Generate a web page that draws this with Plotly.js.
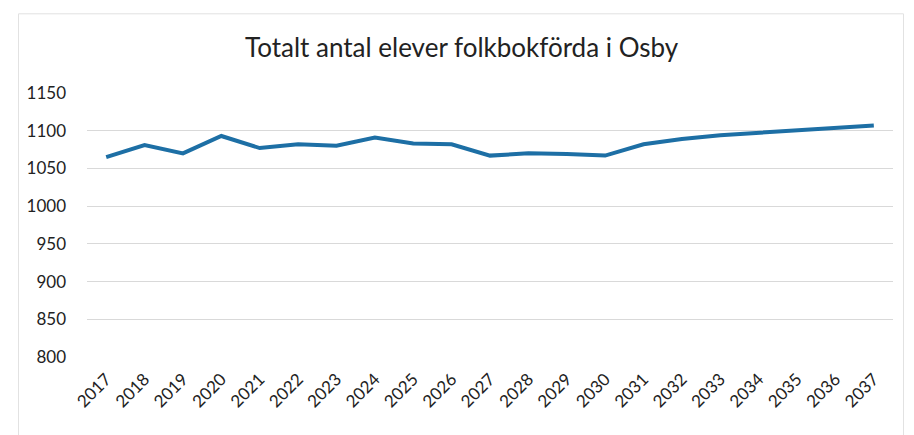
<!DOCTYPE html>
<html>
<head>
<meta charset="utf-8">
<script src="https://cdn.plot.ly/plotly-3.0.1.min.js"></script>
<style>html,body{margin:0;padding:0;background:#fff;}#chart{width:914px;height:435px;}</style>
</head>
<body>
<div id="chart"></div>
<script>
const years = ["2017","2018","2019","2020","2021","2022","2023","2024","2025","2026","2027","2028","2029","2030","2031","2032","2033","2034","2035","2036","2037"];
const elever = [1065,1081,1070,1093,1077,1082,1080,1091,1083,1082,1067,1070,1069,1067,1082,1089,1094,1097,1101,1104,1107];
const yTicks = [800,850,900,950,1000,1050,1100,1150];

Plotly.newPlot('chart', [{
  x: years,
  y: elever,
  type: 'scatter',
  mode: 'lines',
  line: {color: '#1d6fa5', width: 4}
}], {
  width: 914, height: 435,
  paper_bgcolor: '#fff', plot_bgcolor: '#fff',
  margin: {l: 87, r: 21, t: 93, b: 78},
  title: {text: 'Totalt antal elever folkbokförda i Osby', x: 0.505, xanchor: 'center', y: 0.89, yanchor: 'middle',
          font: {family: 'Lato, Open Sans, sans-serif', size: 26, color: '#222'}},
  font: {family: 'Lato, Open Sans, sans-serif', color: '#222'},
  xaxis: {type: 'category', range: [-0.5, years.length - 0.5], tickangle: -45, tickfont: {size: 17},
          showgrid: false, showline: false, ticks: '', zeroline: false, ticklabelstandoff: 8},
  yaxis: {range: [800, 1150], tickvals: yTicks, ticktext: yTicks.map(String), tickfont: {size: 17},
          gridcolor: '#d9d9d9', gridwidth: 1, showline: false, zeroline: false, ticks: '', ticklabelstandoff: 20},
  shapes: [{type: 'rect', xref: 'paper', yref: 'paper', x0: -0.085, x1: 1.013, y0: -0.3, y1: 1.3,
            line: {color: '#e2e2e2', width: 1}}],
  showlegend: false
}, {displayModeBar: false});
</script>
</body>
</html>
